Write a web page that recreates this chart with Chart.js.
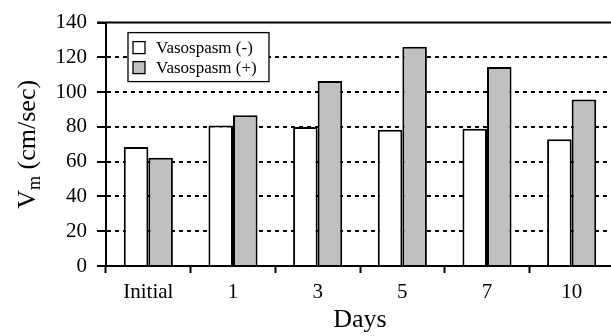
<!DOCTYPE html>
<html>
<head>
<meta charset="utf-8">
<script src="https://cdn.jsdelivr.net/npm/chart.js@4"></script>
<style>
  html, body { margin: 0; padding: 0; background: #fff; overflow: hidden; }
  #wrap { width: 620px; height: 336px; }
</style>
</head>
<body>
<div id="wrap"><canvas id="c" width="620" height="336"></canvas></div>
<script>
// ---- data ----
const categories = ['Initial', '1', '3', '5', '7', '10'];
const seriesLabels = ['Vasospasm (-)', 'Vasospasm (+)'];
const vasospasmNeg = [68.4, 80.8, 80.0, 78.3, 78.9, 72.9];
const vasospasmPos = [62.2, 86.7, 106.4, 126.1, 114.5, 95.7];
const yMin = 0, yMax = 140, yStep = 20;
const xTitle = 'Days';
const yTitleMain = 'V', yTitleSub = 'm', yTitleRest = ' (cm/sec)';

const SERIF = '"Liberation Serif", "Times New Roman", serif';
const GRAY = 'rgb(192,192,192)';

const frame = {
  id: 'frame',
  afterDraw(chart) {
    const {ctx, chartArea: a} = chart;
    ctx.save();
    // top border line
    ctx.strokeStyle = '#000';
    ctx.lineWidth = 2;
    ctx.beginPath();
    ctx.moveTo(a.left - 9, a.top);
    ctx.lineTo(a.right, a.top);
    ctx.stroke();

    // legend box
    const lx = a.left + 22, ly = a.top + 10, lw = 141, lh = 49;
    ctx.fillStyle = '#fff';
    ctx.fillRect(lx, ly, lw, lh);
    ctx.lineWidth = 1.3;
    ctx.strokeRect(lx, ly, lw, lh);
    chart.data.datasets.forEach((ds, i) => {
      const cy = ly + 15 + i * 20;
      ctx.fillStyle = ds.backgroundColor;
      ctx.fillRect(lx + 5, cy - 6, 12, 12);
      ctx.lineWidth = 1.3;
      ctx.strokeStyle = '#000';
      ctx.strokeRect(lx + 5, cy - 6, 12, 12);
      ctx.fillStyle = '#000';
      ctx.font = '17px ' + SERIF;
      ctx.textBaseline = 'middle';
      ctx.textAlign = 'left';
      ctx.fillText(ds.label, lx + 28, cy + 1);
    });

    // y axis title with subscript
    const cyT = (a.top + a.bottom) / 2;
    ctx.translate(35, cyT);
    ctx.rotate(-Math.PI / 2);
    ctx.fillStyle = '#000';
    ctx.textBaseline = 'alphabetic';
    ctx.textAlign = 'left';
    const fMain = '26px ' + SERIF, fSub = '18px ' + SERIF;
    ctx.font = fMain; const w1 = ctx.measureText(yTitleMain).width;
    const w3 = ctx.measureText(yTitleRest).width;
    ctx.font = fSub; const w2 = ctx.measureText(yTitleSub).width;
    let x = -(w1 + w2 + w3) / 2;
    ctx.font = fMain; ctx.fillText(yTitleMain, x, 0); x += w1;
    ctx.font = fSub; ctx.fillText(yTitleSub, x, 5); x += w2;
    ctx.font = fMain; ctx.fillText(yTitleRest, x, 0);
    ctx.restore();
  }
};

new Chart(document.getElementById('c'), {
  type: 'bar',
  data: {
    labels: categories,
    datasets: [
      { label: seriesLabels[0], data: vasospasmNeg, backgroundColor: '#fff', borderColor: '#000', borderWidth: 2 },
      { label: seriesLabels[1], data: vasospasmPos, backgroundColor: GRAY, borderColor: '#000', borderWidth: 2 }
    ]
  },
  options: {
    responsive: false,
    devicePixelRatio: 1,
    animation: false,
    layout: { padding: { top: 17, right: 6, left: 0, bottom: 0 } },
    datasets: { bar: { categoryPercentage: 0.58, barPercentage: 1.0 } },
    plugins: { legend: { display: false }, tooltip: { enabled: false } },
    scales: {
      x: {
        afterFit: s => { s.height = 70; },
        grid: { drawOnChartArea: false, offset: true, tickLength: 7, tickColor: '#000', tickWidth: 2 },
        border: { display: true, color: '#000', width: 2 },
        ticks: { color: '#000', font: { family: SERIF, size: 21 }, padding: 7, maxRotation: 0 },
        title: { display: true, text: xTitle, color: '#000', font: { family: SERIF, size: 26 }, padding: { top: 0, bottom: 0 } }
      },
      y: {
        min: yMin, max: yMax,
        afterFit: s => { s.width = 106; },
        grid: {
          color: c => (c.tick && (c.tick.value === yMin || c.tick.value === yMax)) ? 'rgba(0,0,0,0)' : '#000',
          lineWidth: 2, tickLength: 9, tickColor: '#000', tickWidth: 2, tickBorderDash: []
        },
        border: { display: true, color: '#000', width: 2, dash: [4, 4] },
        ticks: { stepSize: yStep, color: '#000', font: { family: SERIF, size: 21 }, padding: 10 }
      }
    }
  },
  plugins: [frame]
});
</script>
</body>
</html>
